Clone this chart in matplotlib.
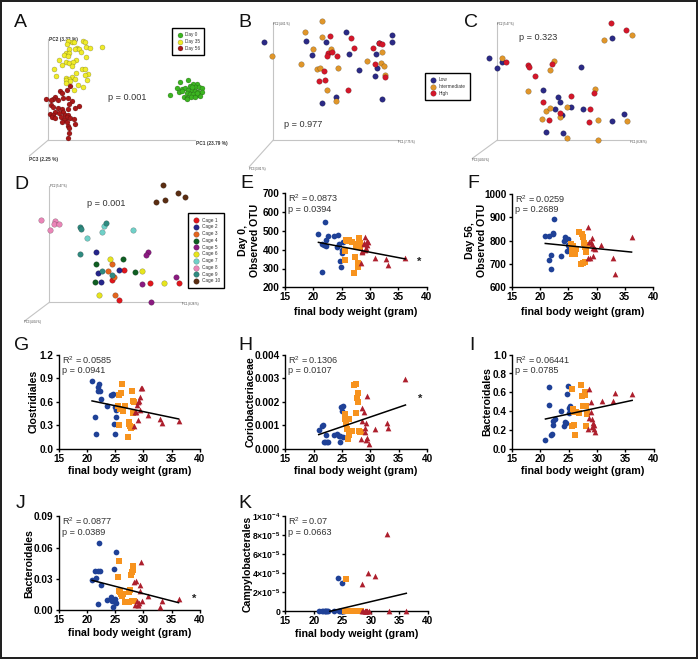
import matplotlib
matplotlib.use('Agg')
import matplotlib.pyplot as plt
from matplotlib.patches import Rectangle

plt.rcParams['font.family'] = ['Liberation Sans', 'DejaVu Sans']
plt.rcParams['mathtext.default'] = 'regular'
plt.rcParams['mathtext.fontset'] = 'custom'
plt.rcParams['mathtext.rm'] = 'Liberation Sans'
plt.rcParams['mathtext.bf'] = 'Liberation Sans:bold'

W, H = 698, 659

# final body weight of the mice, same for all scatter panels
blue_w = [20.9, 21.5, 21.6, 21.9, 22.0, 22.2, 22.3, 22.5, 23.6, 24.2, 24.4, 24.6, 24.7, 24.9, 25.0, 25.1, 25.2]
orange_w = [25.5, 25.6, 25.7, 25.9, 26.0, 26.2, 26.3, 26.8, 27.2, 27.4, 27.5, 27.6, 27.8, 27.9, 28.0, 28.1, 28.2, 28.3]
red_w = [28.4, 28.5, 28.6, 28.9, 29.0, 29.1, 29.2, 29.3, 29.4, 29.5, 29.7, 30.8, 32.9, 33.2, 36.2]

e_blue = [484, 429, 280, 425, 546, 418, 450, 473, 473, 416, 480, 430, 338, 308, 399, 384, 439]
e_orange = [393, 345, 452, 446, 453, 453, 452, 439, 276, 361, 429, 420, 328, 308, 461, 443, 416, 434]
e_red = [328, 395, 390, 430, 437, 399, 469, 407, 425, 446, 439, 358, 352, 319, 354]
e_line_x = [20.9, 36.2]
e_line_y = [439, 351]

f_blue = [821, 719, 820, 739, 680, 831, 828, 894, 734, 799, 816, 807, 754, 780, 807, 774, 776]
f_orange = [787, 765, 741, 775, 755, 741, 765, 836, 700, 827, 816, 703, 788, 774, 707, 764, 750, 780]
f_red = [727, 860, 793, 727, 796, 784, 810, 736, 770, 768, 764, 780, 727, 659, 814]
f_line_x = [20.9, 36.2]
f_line_y = [788, 751]

g_blue = [.868, .40, .183, .783, .74, .825, .735, .638, .545, .68, .69, .70, .315, .183, .528, .41, .50]
g_orange = [.545, .30, .68, .51, .706, .83, .48, .54, .153, .345, .31, .29, .27, .28, .74, .46, .61, .60]
g_red = [.29, .47, .47, .56, .37, .59, .61, .655, .50, .77, .78, .425, .38, .33, .35]
g_line_x = [20.9, 36.2]
g_line_y = [.61, .38]

h_blue = [.00078, .00096, .00100, .0003, .0003, .00058, .0003, .0003, .00057, .00061, .00055, .0003, .00052, .00176, .0016, .0018, .00051]
h_orange = [.00125, .00149, .00104, .00082, .00041, .00057, .00125, .00077, .00271, .0015, .00274, .00214, .00197, .00237, .00074, .00072, .0007, .00072]
h_red = [.00042, .00119, .00174, .00157, .00086, .00072, .0011, .00037, .00044, .00224, .00021, .00082, .00108, .00089, .00298]
h_line_x = [20.9, 36.2]
h_line_y = [.0006, .00186]

i_blue = [.089, .468, .656, .149, .156, .248, .298, .312, .404, .241, .287, .273, .578, .663, .376, .436, .45]
i_orange = [.631, .241, .418, .394, .252, .145, .39, .379, .674, .56, .454, .45, .567, .603, .454, .238, .376, .37]
i_red = [.206, .323, .635, .496, .394, .312, .227, .277, .252, .206, .181, .504, .504, .589, .578]
i_line_x = [20.9, 36.2]
i_line_y = [.316, .514]

j_blue = [.0287, .0373, .0313, .0372, .0061, .0641, .038, .0239, .0099, .0124, .0093, .0032, .0392, .0083, .0112, .0561, .0067]
j_orange = [.0319, .0472, .0185, .0175, .016, .0137, .0155, .008, .0082, .0179, .008, .0195, .0338, .0365, .0093, .0386, .0424, .0093]
j_red = [.0274, .0054, .0284, .0093, .0051, .0048, .007, .0239, .0188, .0463, .0086, .014, .0029, .0086, .0112]
j_line_x = [20.9, 36.2]
j_line_y = [.0287, .0073]

k_blue = [0, 0, 0, 0, 0, 0, 0, 0, 0, 3.46e-5, 0, 0, 0, 2.97e-5, 0, 0, 0]
k_orange = [0, 0, 3.43e-5, 0, 0, 0, 0, 0, 0, 0, 0, 0, 0, 0, 0, 0, 0, 0]
k_red = [0, 2.9e-5, 0, 0, 0, 0, 0, 0, 0, 3.99e-5, 0, 3.71e-5, 8.08e-5, 0, 0]
k_line_x = [22.8, 36.2]
k_line_y = [0, 1.89e-5]

# PCoA panels, read as projected screen positions
a_day0_x = [511, 541, 565, 530, 545, 536, 590, 578, 570, 585, 598, 606, 555, 565, 575, 585, 595, 607, 560, 570, 580, 590, 600, 552, 562, 572, 585, 560, 545, 575, 590]
a_day0_y = [285, 246, 241, 264, 268, 276, 252, 253, 258, 262, 262, 263, 265, 270, 270, 272, 275, 276, 280, 283, 283, 285, 287, 290, 295, 292, 292, 297, 272, 262, 280]
a_day35_x = [305, 248, 254, 215, 205, 200, 222, 258, 270, 208, 232, 226, 238, 243, 198, 208, 192, 205, 258, 228, 178, 197, 187, 206, 218, 216, 247, 255, 161, 227, 169, 263, 254, 197, 216, 224, 207, 260, 199, 211, 199, 233, 248, 222]
a_day35_y = [142, 124, 125, 126, 122, 132, 125, 140, 143, 148, 143, 147, 146, 155, 160, 160, 165, 168, 171, 180, 180, 185, 194, 188, 186, 198, 206, 207, 208, 220, 227, 222, 226, 233, 232, 238, 236, 241, 241, 242, 250, 255, 262, 270]
a_day56_x = [180, 187, 200, 209, 137, 165, 160, 153, 173, 189, 203, 217, 206, 154, 158, 237, 224, 175, 185, 205, 165, 190, 150, 160, 176, 195, 205, 155, 165, 182, 200, 210, 223, 193, 187, 225, 203, 207, 207, 204, 200]
a_day56_y = [272, 278, 269, 257, 297, 290, 296, 300, 299, 294, 294, 302, 311, 316, 322, 319, 325, 323, 327, 327, 335, 335, 343, 345, 340, 345, 345, 352, 353, 350, 352, 355, 356, 360, 367, 373, 378, 385, 399, 415, 365]

b_low_x = [102, 228, 289, 349, 486, 485, 246, 358, 437, 446, 386, 442, 434, 318, 276, 455]
b_low_y = [126, 124, 127, 95, 104, 126, 165, 161, 163, 130, 211, 204, 229, 290, 310, 297]
b_mid_x = [276, 225, 276, 127, 250, 302, 213, 261, 269, 325, 412, 457, 454, 461, 466, 292, 317]
b_mid_y = [63, 95, 111, 168, 148, 146, 192, 208, 205, 205, 184, 155, 190, 198, 226, 271, 304]
b_high_x = [300, 364, 371, 430, 447, 457, 293, 307, 292, 322, 435, 281, 267, 285, 355, 465]
b_high_y = [107, 113, 145, 144, 130, 131, 158, 156, 167, 169, 192, 214, 244, 240, 270, 230]

c_low_x = [86, 126, 112, 362, 457, 250, 293, 299, 334, 286, 368, 305, 491, 455, 259, 308]
c_low_y = [173, 186, 203, 202, 113, 270, 290, 307, 322, 327, 328, 345, 343, 362, 397, 398]
c_mid_x = [126, 283, 269, 203, 405, 431, 517, 257, 270, 320, 247, 299, 413, 501, 320, 414]
c_mid_y = [175, 184, 209, 274, 268, 120, 104, 332, 325, 322, 358, 352, 361, 363, 414, 419]
c_high_x = [453, 498, 139, 203, 206, 275, 225, 401, 332, 250, 389, 299, 267, 388]
c_high_y = [69, 91, 186, 196, 200, 192, 227, 279, 289, 306, 326, 339, 360, 366]

cage_names = ['Cage 1', 'Cage 2', 'Cage 3', 'Cage 4', 'Cage 5', 'Cage 6', 'Cage 7', 'Cage 8', 'Cage 9', 'Cage 10']
cage_colors = ['#e0161c', '#25258a', '#e2651f', '#0f5e22', '#8a1a80', '#e6e41e', '#70d0c8', '#ea86b8', '#2f8a80', '#5a2d12']
cage_x = [[357, 337, 371, 450, 537], [287, 358, 294, 304], [337, 323, 343, 345], [369, 288, 284, 406],
          [443, 438, 528, 425, 452], [330, 426, 491, 296], [400, 262, 307, 312], [123, 164, 163, 176, 149],
          [240, 242, 319, 240, 307, 337], [489, 534, 554, 494, 468]]
cage_y = [[405, 344, 314, 354, 354], [262, 314, 324, 352], [298, 319, 337, 390], [281, 298, 351, 321],
          [260, 270, 335, 357, 411], [282, 318, 354, 389], [194, 219, 200, 184], [164, 167, 178, 177, 195],
          [187, 193, 175, 266, 317, 330], [61, 83, 96, 104, 112]]

fig = plt.figure(figsize=(W / 100, H / 100), dpi=100, facecolor='white')


def px_axes(left, top, right, bottom):
    return fig.add_axes([left / W, 1 - bottom / H, (right - left) / W, (bottom - top) / H])


def letter(s, x, y):
    fig.text(x / W, 1 - y / H, s, fontsize=14, va='baseline', ha='left', color='#111111')


def pcoa_panel(ox, oy, w, h, origin, ends, labels, label_pos, label_size, ptext, ptext_pos):
    ax = px_axes(ox, oy, ox + w, oy + h)
    ax.set_xlim(0, w * 3)
    ax.set_ylim(h * 3, 0)
    ax.axis('off')
    ax.patch.set_alpha(0)
    for end in ends:
        ax.plot([origin[0], end[0]], [origin[1], end[1]], color='#c4c4c4', lw=0.8, zorder=1)
    for lab, pos in zip(labels, label_pos):
        ax.text(pos[0], pos[1], lab, fontsize=label_size, color='#333333', va='center', ha='left',
                fontweight='bold' if label_size > 3 else 'normal')
    ax.text(ptext_pos[0], ptext_pos[1], ptext, fontsize=6.6, color='#333333', va='center', ha='left')
    return ax


def balls(ax, x, y, color, label, size=16):
    ax.scatter(x, y, s=size, color=color, edgecolors='#00000066', linewidths=0.3, label=label, zorder=3, clip_on=False)


def box_legend(ax, x, y, size, spacing):
    leg = ax.legend(loc='upper left', bbox_to_anchor=(x, y), bbox_transform=ax.transData, fontsize=size,
                    frameon=True, fancybox=False, framealpha=1, edgecolor='black', labelspacing=spacing,
                    borderpad=0.9, handletextpad=0.3, handlelength=1.6, borderaxespad=0)
    leg.get_frame().set_linewidth(1.0)
    for t in leg.get_texts():
        t.set_color('#333333')


def scatter_panel(box, ylim, yticks, yticklabels, ylabel, label_px, blue, orange, red, line_x, line_y, r2, p,
                  star=None, xpad=1.5, ytick_size=7.2):
    ax = px_axes(*box)
    ax.scatter(blue_w, blue, s=17, marker='o', color='#1f4197', linewidths=0, clip_on=False, zorder=3)
    ax.scatter(orange_w, orange, s=17, marker='s', color='#f7931e', linewidths=0, clip_on=False, zorder=3)
    ax.scatter(red_w, red, s=17, marker='^', color='#ad1f2d', linewidths=0, clip_on=False, zorder=3)
    ax.plot(line_x, line_y, color='black', lw=1.1, zorder=4, clip_on=False)
    ax.set_xlim(15, 40)
    ax.set_ylim(*ylim)
    ax.set_xticks(range(15, 45, 5))
    ax.set_yticks(yticks)
    ax.set_yticklabels(yticklabels)
    ax.spines['top'].set_visible(False)
    ax.spines['right'].set_visible(False)
    ax.spines['left'].set_linewidth(1.0)
    ax.spines['bottom'].set_linewidth(1.0)
    ax.tick_params(width=1.0, length=2.5, pad=1.2, labelsize=7.2)
    ax.tick_params(axis='y', labelsize=ytick_size)
    for t in ax.get_xticklabels() + ax.get_yticklabels():
        t.set_fontweight('bold')
    ax.set_xlabel('final body weight (gram)', fontsize=7.7, fontweight='bold', labelpad=xpad)
    ax.set_ylabel(ylabel, fontsize=7.6, fontweight='bold', linespacing=1.25, va='center')
    ax.yaxis.set_label_coords((label_px - box[0]) / (box[2] - box[0]), 0.5)
    ax.text(0.02, 0.945, 'R$^2$ = ' + r2, transform=ax.transAxes, fontsize=6.6, color='#333333', va='center')
    ax.text(0.02, 0.83, 'p = ' + p, transform=ax.transAxes, fontsize=6.6, color='#333333', va='center')
    if star:
        ax.text(star[0], star[1], '*', fontsize=8, fontweight='bold', ha='center', va='center', color='#222222')
    return ax


# panel A
ax = pcoa_panel(0, 0, 240, 170, (145, 420), [(145, 118), (585, 420), (88, 468)],
                ['PC2 (3.32 %)', 'PC1 (23.79 %)', 'PC3 (2.25 %)'], [(147, 120), (587, 430), (88, 480)], 3.4,
                'p = 0.001', (325, 291))
balls(ax, a_day0_x, a_day0_y, '#3cb521', 'Day 0', size=13)
balls(ax, a_day35_x, a_day35_y, '#f0ec2a', 'Day 35', size=13)
balls(ax, a_day56_x, a_day56_y, '#a81818', 'Day 56', size=13)
box_legend(ax, 515, 83, 3.4, 0.4)

# panel B
ax = pcoa_panel(230, 0, 240, 170, (129, 421), [(129, 70), (503, 421), (58, 500)],
                ['PC2 (4.61 %)', 'PC1 (7.75 %)', 'PC3 (3.81 %)'], [(130, 72), (505, 427), (58, 506)], 2,
                'p = 0.977', (162, 373))
balls(ax, b_low_x, b_low_y, '#2b2a85', 'Low')
balls(ax, b_mid_x, b_mid_y, '#e0962a', 'Intermediate')
balls(ax, b_high_x, b_high_y, '#d3172a', 'High')
box_legend(ax, 586, 218, 3.4, 0.4)

# panel C
ax = pcoa_panel(460, 0, 238, 170, (111, 421), [(111, 70), (508, 421), (37, 475)],
                ['PC2 (5.47 %)', 'PC1 (8.28 %)', 'PC3 (4.04 %)'], [(110, 72), (510, 427), (36, 481)], 2,
                'p = 0.323', (176, 113))
balls(ax, c_low_x, c_low_y, '#2b2a85', 'Low')
balls(ax, c_mid_x, c_mid_y, '#e0962a', 'Intermediate')
balls(ax, c_high_x, c_high_y, '#d3172a', 'High')

# panel D
ax = pcoa_panel(0, 165, 240, 170, (148, 412), [(148, 62), (545, 412), (75, 467)],
                ['PC2 (5.47 %)', 'PC1 (8.28 %)', 'PC3 (4.04 %)'], [(150, 64), (547, 418), (73, 472)], 2,
                'p = 0.001', (260, 115))
for name, color, x, y in zip(cage_names, cage_colors, cage_x, cage_y):
    balls(ax, x, y, color, name)
box_legend(ax, 565, 145, 3.4, 0.37)

scatter_panel((285, 193.3, 426.7, 287.3), (200, 700), [200, 300, 400, 500, 600, 700], ['200', '300', '400', '500', '600', '700'],
              'Day 0,\nObserved OTU', 249, e_blue, e_orange, e_red, e_line_x, e_line_y, '0.0873', '0.0394', star=(38.7, 336), xpad=3.5)
scatter_panel((512, 194, 653, 287.3), (600, 1000), [600, 700, 800, 900, 1000], ['600', '700', '800', '900', '1000'],
              'Day 56,\nObserved OTU', 476, f_blue, f_orange, f_red, f_line_x, f_line_y, '0.0259', '0.2689', xpad=3.5)
scatter_panel((58.7, 354.7, 200, 448.7), (0, 1.2), [0, .3, .6, .9, 1.2], ['0.0', '0.3', '0.6', '0.9', '1.2'],
              'Clostridiales', 34, g_blue, g_orange, g_red, g_line_x, g_line_y, '0.0585', '0.0941')
scatter_panel((285.3, 354.7, 427, 448.7), (0, .004), [0, .001, .002, .003, .004], ['0.000', '0.001', '0.002', '0.003', '0.004'],
              'Coriobacteriaceae', 250.6, h_blue, h_orange, h_red, h_line_x, h_line_y, '0.1306', '0.0107', star=(38.8, .00213))
scatter_panel((512, 354.7, 653.7, 448.7), (0, 1), [0, .2, .4, .6, .8, 1], ['0.0', '0.2', '0.4', '0.6', '0.8', '1.0'],
              'Bacteroidales', 487, i_blue, i_orange, i_red, i_line_x, i_line_y, '0.06441', '0.0785')
scatter_panel((58.7, 516.3, 200, 610.3), (0, .09), [0, .03, .06, .09], ['0.00', '0.03', '0.06', '0.09'],
              'Bacteroidales', 29, j_blue, j_orange, j_red, j_line_x, j_line_y, '0.0877', '0.0389', star=(38.9, .0112), xpad=2)
scatter_panel((285.3, 516, 428, 611.3), (0, 1e-4), [0, 2e-5, 4e-5, 6e-5, 8e-5, 1e-4],
              ['0', r'$\mathbf{2{\times}10^{-5}}$', r'$\mathbf{4{\times}10^{-5}}$', r'$\mathbf{6{\times}10^{-5}}$',
               r'$\mathbf{8{\times}10^{-5}}$', r'$\mathbf{1{\times}10^{-4}}$'],
              'Campylobacterales', 248, k_blue, k_orange, k_red, k_line_x, k_line_y, '0.07', '0.0663', xpad=2, ytick_size=6.2)

for s, x, y in [('A', 14, 27), ('B', 238, 27), ('C', 464, 27), ('D', 14, 189), ('E', 240, 188), ('F', 467, 188),
                ('G', 14, 350), ('H', 238, 350), ('I', 469, 350), ('J', 16, 508), ('K', 238, 508)]:
    letter(s, x, y)

# dark frame round the whole figure
for x, y, w, h in [(0, 0, 2, H), (696, 0, 2, H), (0, 0, W, 2), (0, 657, W, 2)]:
    fig.add_artist(Rectangle((x / W, 1 - (y + h) / H), w / W, h / H, transform=fig.transFigure,
                             facecolor='#222222', edgecolor='none'))

fig.savefig('out.png', dpi=100)
